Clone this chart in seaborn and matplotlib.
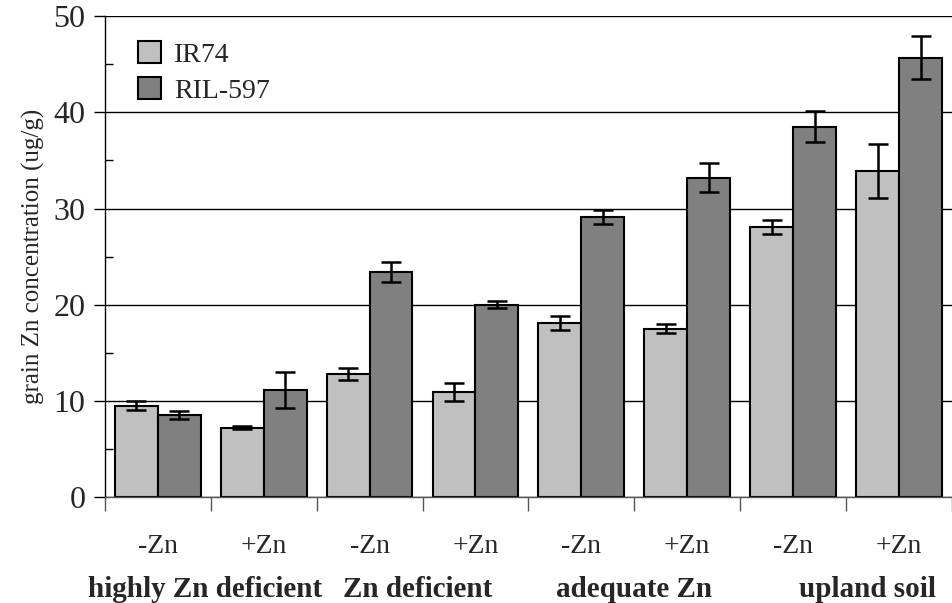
import matplotlib
matplotlib.use("Agg")
import matplotlib.pyplot as plt
import matplotlib.transforms as mtransforms
from matplotlib.ticker import MultipleLocator, FixedLocator
import pandas as pd
import seaborn as sns
import numpy as np

# data
conditions = ["-Zn", "+Zn", "-Zn", "+Zn", "-Zn", "+Zn", "-Zn", "+Zn"]
soils = ["highly Zn deficient", "Zn deficient", "adequate Zn", "upland soil"]
genotypes = ["IR74", "RIL-597"]
ir74 = [9.5, 7.2, 12.8, 10.9, 18.1, 17.5, 28.1, 33.9]
ir74_err = [0.5, 0.15, 0.6, 0.9, 0.7, 0.5, 0.7, 2.85]
ril597 = [8.5, 11.1, 23.4, 20.0, 29.1, 33.2, 38.5, 45.7]
ril597_err = [0.4, 1.9, 1.0, 0.4, 0.7, 1.5, 1.6, 2.2]

sns.set_theme(style="white")
plt.rcParams["font.family"] = ["Liberation Serif", "DejaVu Serif"]

cat_ids = [f"c{i}" for i in range(len(conditions))]
df = pd.DataFrame({
    "cat": cat_ids * 2,
    "genotype": [genotypes[0]] * len(cat_ids) + [genotypes[1]] * len(cat_ids),
    "value": ir74 + ril597,
    "err": ir74_err + ril597_err,
})

fig = plt.figure(figsize=(9.53, 6.03), dpi=100)
ax = fig.add_axes([0.110, 0.176, 0.889, 0.797])

sns.barplot(data=df, x="cat", y="value", hue="genotype", order=cat_ids,
            hue_order=genotypes, palette=["#c0c0c0", "#808080"],
            width=0.81, gap=0, errorbar=None, edgecolor="black",
            linewidth=1.5, saturation=1, ax=ax)

# error bars at bar centres
for cont, errs in zip(ax.containers, [ir74_err, ril597_err]):
    xs = [b.get_x() + b.get_width() / 2 for b in cont]
    ys = [b.get_height() for b in cont]
    ax.errorbar(xs, ys, yerr=errs, fmt="none", ecolor="black",
                elinewidth=1.8, capsize=7, capthick=1.8, zorder=5)

ax.set_ylim(0, 50)
ax.set_xlim(-0.5, len(cat_ids) - 0.5)
ax.yaxis.set_major_locator(MultipleLocator(10))
ax.yaxis.set_minor_locator(MultipleLocator(5))
ax.grid(axis="y", which="major", color="black", linewidth=1.0)
ax.set_axisbelow(True)
# top gridline is lighter in the original
ax.yaxis.get_gridlines()[-1].set_color("#555555")

for s in ["top", "right"]:
    ax.spines[s].set_visible(False)
ax.spines["left"].set_color("black")
ax.spines["bottom"].set_color("#555555")
ax.spines["left"].set_linewidth(1.0)
ax.spines["bottom"].set_linewidth(1.0)

ax.tick_params(axis="y", which="major", direction="out", length=8, width=1,
               color="black", labelsize=23, pad=6, left=True)
ax.tick_params(axis="y", which="minor", direction="in", length=6, width=1,
               color="black", left=True)

ax.set_xticks(range(len(cat_ids)))
ax.set_xticklabels(conditions)
ax.tick_params(axis="x", which="major", length=0, labelsize=20, pad=27)
ax.xaxis.set_minor_locator(FixedLocator(np.arange(-0.5, len(cat_ids), 1.0)))
ax.tick_params(axis="x", which="minor", direction="out", length=10, width=1,
               color="#555555", bottom=True)

ax.set_xlabel("")
ax.set_ylabel("grain Zn concentration (ug/g)", fontsize=18, labelpad=6)

trans = mtransforms.blended_transform_factory(ax.transData, ax.transAxes)
label_shift = [-0.05, -0.05, 0.0, 0.2]
for i, s in enumerate(soils):
    ax.text(2 * i + 0.5 + label_shift[i], -0.193, s, transform=trans,
            ha="center", va="center", fontsize=21, fontweight="bold")

leg = ax.legend(loc="upper left", bbox_to_anchor=(0.01, 1.0), frameon=False,
                fontsize=20, handlelength=0.8, handleheight=0.8,
                handletextpad=0.5, labelspacing=0.35)

fig.savefig("out.png", dpi=100)
